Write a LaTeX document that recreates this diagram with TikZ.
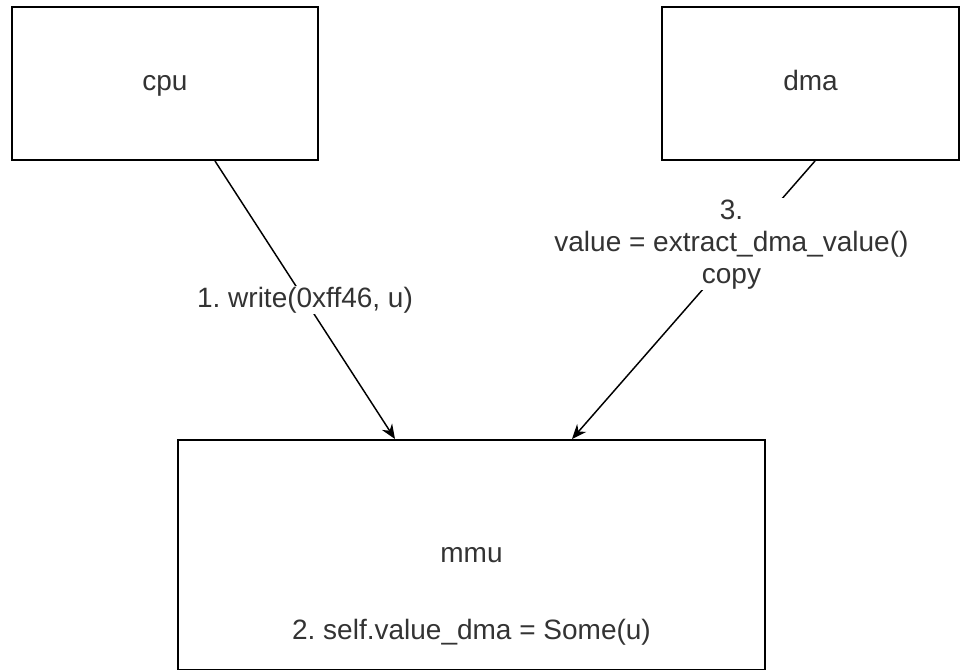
\documentclass[tikz,border=0pt]{standalone}
\usepackage{fontspec}
\setmainfont{Liberation Sans}
\usetikzlibrary{arrows.meta,calc}
\frenchspacing

\begin{document}
\begin{tikzpicture}[x=0.75pt,y=-0.75pt,
  unit/.style={draw,line width=1.5pt,fill=white,inner sep=0pt,text=black!80,text height=15pt,text depth=4.5pt,font=\fontsize{21}{24}\selectfont},
  note/.style={inner sep=1pt,text=black!80,align=center,font=\fontsize{21}{24}\selectfont},
  flow/.style={line width=1.1pt,-{Stealth[length=11pt,width=9pt]}}]
\useasboundingbox (0,0) rectangle (960,669);
\fill[white] (0,0) rectangle (960,669);
\node[unit,minimum width=229.5pt,minimum height=114.75pt] (cpu) at (165,83.5) {cpu};
\node[unit,minimum width=222.75pt,minimum height=114.75pt] (dma) at (810.5,83.5) {dma};
\node[unit,minimum width=440.25pt,minimum height=172.5pt] (mmu) at (471.5,555) {mmu};
\node[note] (mmunote) at (471.5,632) {2. self.value\_dma = Some(u)};
\draw[flow] ($(cpu.south)+(50,0)$) -- node[note,fill=white] (wlabel) {1. write(0xff46, u)} ($(mmu.north)+(-76.5,0)$);
\draw[flow] ($(dma.south)+(4.5,0)$) -- node[note,fill=white,pos=0.3,xshift=-8pt] (clabel) {3.\\value = extract\_dma\_value()\\copy} ($(mmu.north)+(100.5,0)$);
\end{tikzpicture}
\end{document}
